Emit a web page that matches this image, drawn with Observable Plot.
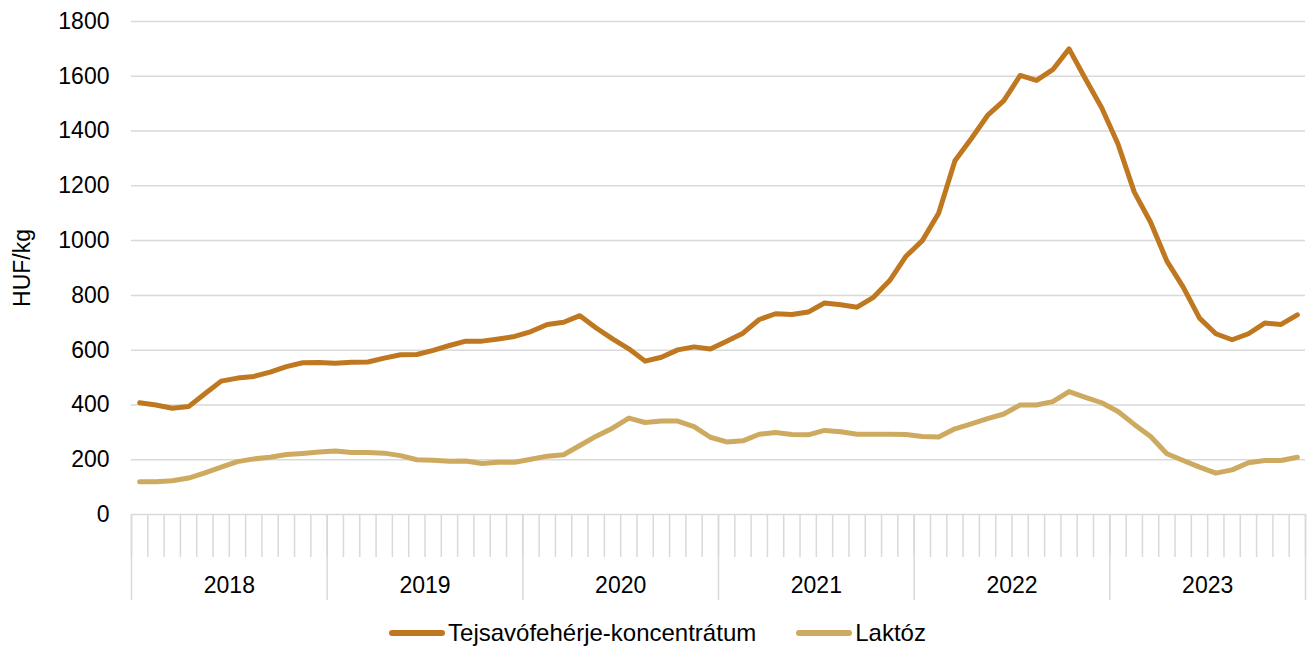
<!DOCTYPE html>
<html>
<head>
<meta charset="utf-8">
<script src="https://cdn.jsdelivr.net/npm/d3@7"></script>
<script src="https://cdn.jsdelivr.net/npm/@observablehq/plot@0.6"></script>
<style>
  html, body { margin: 0; padding: 0; background: #fff; }
  #chart { width: 1309px; }
  .legend { display: flex; justify-content: center; align-items: center; width: 1309px; height: 46px; padding-left: 6px; box-sizing: border-box; font-family: "Liberation Sans", Arial, sans-serif; font-size: 24px; color: #000; }
  .legend .item { display: flex; align-items: center; }
  .legend .item + .item { margin-left: 40px; }
  .legend .sw { width: 56px; height: 6px; border-radius: 3px; margin-right: 3px; }
</style>
</head>
<body>
<div id="chart"></div>
<script>
const years = ["2018", "2019", "2020", "2021", "2022", "2023"];
const seriesNames = ["Tejsavófehérje-koncentrátum", "Laktóz"];
const seriesColors = ["#bf781f", "#cdaa5f"];
const yTicks = [0, 200, 400, 600, 800, 1000, 1200, 1400, 1600, 1800];

const whey = [
  408, 400, 388, 394, 441, 487, 498, 504, 520, 540, 554, 555,
  552, 556, 557, 571, 583, 584, 599, 617, 633, 633, 641, 650,
  668, 694, 702, 726, 681, 641, 605, 560, 574, 601, 612, 604,
  633, 662, 712, 733, 730, 739, 772, 766, 757, 793, 854, 943,
  1000, 1100, 1292, 1372, 1457, 1511, 1603, 1585, 1624, 1700, 1591, 1485,
  1353, 1177, 1067, 925, 830, 717, 660, 638, 660, 699, 694, 729
];
const lactose = [
  120, 120, 123, 133, 152, 173, 193, 203, 209, 219, 223, 228,
  232, 226, 226, 224, 215, 200, 198, 194, 195, 186, 191, 191,
  202, 213, 218, 252, 286, 315, 352, 336, 341, 341, 321, 282,
  265, 269, 293, 299, 292, 291, 307, 302, 293, 293, 293, 292,
  285, 283, 313, 331, 350, 367, 400, 400, 412, 449, 428, 408,
  376, 329, 285, 222, 197, 173, 151, 163, 189, 197, 197, 209
];

const nMonths = years.length * 12;
const table = [];
[whey, lactose].forEach((arr, s) => {
  arr.forEach((v, i) => table.push({series: seriesNames[s], m: i + 0.5, value: v}));
});

const monthTicks = d3.range(0, nMonths + 1);
const yearTicks = d3.range(0, nMonths + 1, 12);
const yearMid = years.map((y, i) => i * 12 + 6);

const chart = Plot.plot({
  width: 1309,
  height: 610,
  marginLeft: 131,
  marginRight: 4,
  marginTop: 21,
  marginBottom: 96,
  style: {fontFamily: "'Liberation Sans', Arial, sans-serif", fontSize: "23px", color: "#000", background: "#fff", overflow: "visible"},
  x: {domain: [0, nMonths], axis: null},
  y: {domain: [0, 1800], axis: null},
  color: {domain: seriesNames, range: seriesColors},
  marks: [
    Plot.gridY(yTicks, {stroke: "#d9d9d9", strokeOpacity: 1, strokeWidth: 1.5}),
    Plot.axisY(yTicks, {tickSize: 0, tickPadding: 22, tickFormat: d => String(d), label: null, fontSize: 23, fill: "#000"}),
    Plot.axisX(monthTicks, {tickSize: 43, tickFormat: () => "", stroke: "#d9d9d9", strokeOpacity: 1, strokeWidth: 1.5, label: null}),
    Plot.axisX(yearTicks, {tickSize: 86, tickFormat: () => "", stroke: "#d9d9d9", strokeOpacity: 1, strokeWidth: 1.5, label: null}),
    Plot.axisX(yearMid, {tickSize: 0, tickPadding: 62, tickFormat: d => years[Math.floor(d / 12)], label: null, fontSize: 23, fill: "#000"}),
    Plot.text(["HUF/kg"], {frameAnchor: "left", textAnchor: "middle", dx: -109, rotate: -90, fontSize: 23, fill: "#000"}),
    Plot.line(table, {x: "m", y: "value", z: "series", stroke: "series", strokeWidth: 5, strokeLinejoin: "round", strokeLinecap: "round"})
  ]
});
document.getElementById("chart").appendChild(chart);

const legend = document.createElement("div");
legend.className = "legend";
seriesNames.forEach((name, i) => {
  const item = document.createElement("div");
  item.className = "item";
  const sw = document.createElement("span");
  sw.className = "sw";
  sw.style.background = seriesColors[i];
  const t = document.createElement("span");
  t.textContent = name;
  item.appendChild(sw);
  item.appendChild(t);
  legend.appendChild(item);
});
document.body.appendChild(legend);
</script>
</body>
</html>
